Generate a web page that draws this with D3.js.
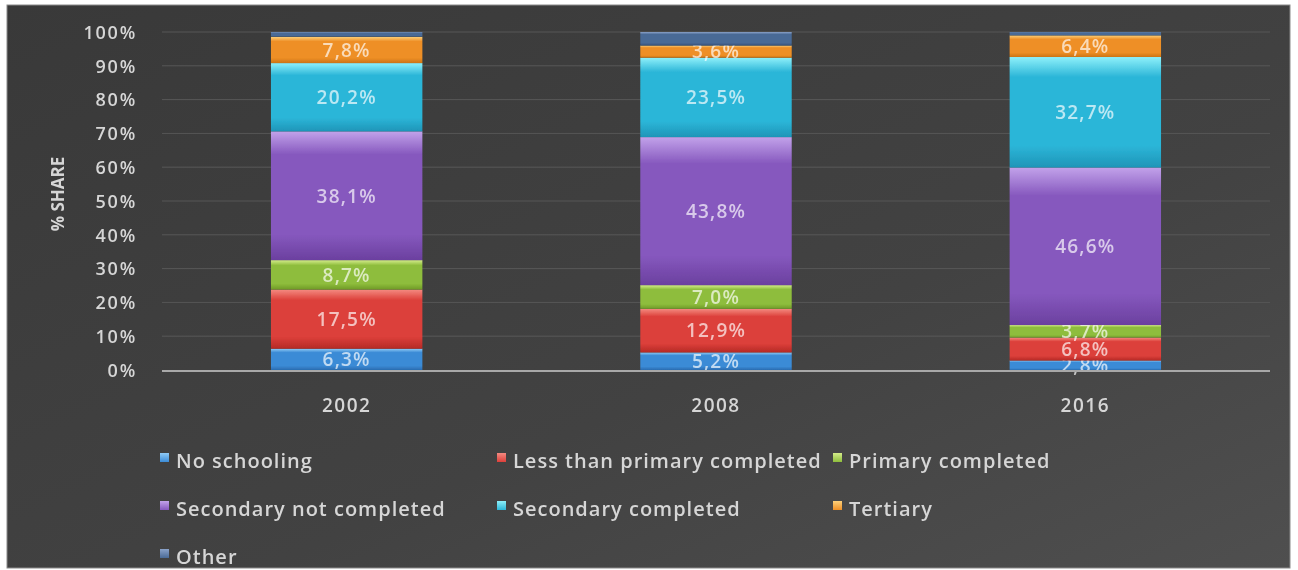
<!DOCTYPE html>
<html>
<head>
<meta charset="utf-8">
<script src="https://cdn.jsdelivr.net/npm/d3@7/dist/d3.min.js"></script>
<style>
  html, body { margin: 0; padding: 0; background: #ffffff; }
  svg { display: block; }
  text { font-family: "Open Sans", "DejaVu Sans", sans-serif; }
</style>
</head>
<body>
<svg id="chart" width="1298" height="570"></svg>
<script>
// Education attainment shares by survey year (percent)
const years = ["2002", "2008", "2016"];
const categories = [
  "No schooling",
  "Less than primary completed",
  "Primary completed",
  "Secondary not completed",
  "Secondary completed",
  "Tertiary",
  "Other"
];
const noSchooling        = [6.3, 5.2, 2.8];
const lessThanPrimary    = [17.5, 12.9, 6.8];
const primaryCompleted   = [8.7, 7.0, 3.7];
const secondaryNotDone   = [38.1, 43.8, 46.6];
const secondaryCompleted = [20.2, 23.5, 32.7];
const tertiary           = [7.8, 3.6, 6.4];
const other              = [1.4, 4.0, 1.0];
const yTicks = [0, 10, 20, 30, 40, 50, 60, 70, 80, 90, 100];

const seriesValues = [noSchooling, lessThanPrimary, primaryCompleted,
  secondaryNotDone, secondaryCompleted, tertiary, other];
const labelled = [true, true, true, true, true, true, false];

// base / highlight / shade colours per category
const palette = [
  { base: "#3b8bd6", hi: "#8fcaf5", lo: "#2a6cb0" },
  { base: "#dc3f3a", hi: "#f48a80", lo: "#b52a26" },
  { base: "#8ebd3c", hi: "#d4ec8a", lo: "#6f9a28" },
  { base: "#8658be", hi: "#c2a2ea", lo: "#6b409f" },
  { base: "#2cb6d8", hi: "#8ef0fa", lo: "#1e95b8" },
  { base: "#ee8f26", hi: "#fdd07a", lo: "#cc7414" },
  { base: "#4a6a96", hi: "#8aa2c8", lo: "#34507a" }
];

const rows = years.map((y, i) => {
  const r = { year: y };
  categories.forEach((c, k) => r[c] = seriesValues[k][i]);
  return r;
});
const stacked = d3.stack().keys(categories)(rows);

const svg = d3.select("#chart");
const defs = svg.append("defs");

// chart panel background
const bg = defs.append("linearGradient").attr("id", "bg")
  .attr("x1", "0").attr("y1", "0").attr("x2", "1").attr("y2", "1");
bg.append("stop").attr("offset", "0%").attr("stop-color", "#393939");
bg.append("stop").attr("offset", "60%").attr("stop-color", "#424242");
bg.append("stop").attr("offset", "100%").attr("stop-color", "#4f4f4f");

palette.forEach((p, k) => {
  const g = defs.append("linearGradient").attr("id", "seg" + k)
    .attr("x1", "0").attr("y1", "0").attr("x2", "0").attr("y2", "1");
  g.append("stop").attr("offset", "0%").attr("stop-color", p.hi);
  g.append("stop").attr("offset", "18%").attr("stop-color", p.base);
  g.append("stop").attr("offset", "80%").attr("stop-color", p.base);
  g.append("stop").attr("offset", "100%").attr("stop-color", p.lo);
  const m = defs.append("linearGradient").attr("id", "mk" + k)
    .attr("x1", "0").attr("y1", "0").attr("x2", "0").attr("y2", "1");
  m.append("stop").attr("offset", "0%").attr("stop-color", p.hi);
  m.append("stop").attr("offset", "100%").attr("stop-color", p.base);
});

const blur = defs.append("filter").attr("id", "soft");
blur.append("feGaussianBlur").attr("stdDeviation", 0.6);

svg.append("rect").attr("x", 7).attr("y", 5).attr("width", 1283).attr("height", 563)
  .attr("fill", "url(#bg)").attr("stroke", "#8a8a8a").attr("stroke-width", 1);

const plot = { left: 162, right: 1270, top: 32, bottom: 370 };

const x = d3.scaleBand().domain(years)
  .range([plot.left, plot.right]).paddingInner(0.59).paddingOuter(0.295);
const y = d3.scaleLinear().domain([0, 100]).range([plot.bottom, plot.top]);

const g = svg.append("g").attr("filter", "url(#soft)");

// horizontal gridlines
g.append("g").selectAll("line").data(yTicks.filter(t => t > 0)).join("line")
  .attr("x1", plot.left).attr("x2", plot.right)
  .attr("y1", d => y(d)).attr("y2", d => y(d))
  .attr("stroke", "#575757").attr("stroke-width", 1);

// y axis tick labels
const yAxis = d3.axisLeft(y).tickValues(yTicks).tickSize(0).tickPadding(0)
  .tickFormat(d => d + "%");
const ya = g.append("g").attr("transform", `translate(137,0)`).call(yAxis);
ya.select(".domain").remove();
ya.selectAll("text").attr("fill", "#d6d6d6").attr("font-size", 18)
  .attr("font-weight", 600).attr("letter-spacing", 1.8)
  .attr("font-family", "'Open Sans', sans-serif").attr("dy", "0.35em");

// y axis title
g.append("text")
  .attr("transform", `translate(64,194) rotate(-90)`)
  .attr("text-anchor", "middle").attr("fill", "#d6d6d6")
  .attr("font-size", 17).attr("font-weight", "bold")
  .text("% SHARE");

// stacked bars
const layers = g.append("g").selectAll("g").data(stacked).join("g");
layers.each(function(layer, k) {
  const sel = d3.select(this);
  sel.selectAll("rect").data(layer).join("rect")
    .attr("x", d => x(d.data.year))
    .attr("width", x.bandwidth())
    .attr("y", d => y(d[1]))
    .attr("height", d => y(d[0]) - y(d[1]))
    .attr("fill", `url(#seg${k})`);
  if (labelled[k]) {
    sel.selectAll("text").data(layer).join("text")
      .attr("x", d => x(d.data.year) + x.bandwidth() / 2)
      .attr("y", d => (y(d[0]) + y(d[1])) / 2)
      .attr("dy", "0.36em")
      .attr("text-anchor", "middle")
      .attr("font-size", 19).attr("font-weight", 600).attr("letter-spacing", 1.2)
      .attr("fill", "rgba(255,255,255,0.68)")
      .text(d => (d[1] - d[0]).toFixed(1).replace(".", ",") + "%");
  }
});

// baseline
g.append("line").attr("x1", plot.left).attr("x2", plot.right)
  .attr("y1", plot.bottom + 1).attr("y2", plot.bottom + 1)
  .attr("stroke", "#a8a8a8").attr("stroke-width", 2);

// x axis labels
const xAxis = d3.axisBottom(x).tickSize(0).tickPadding(0);
const xa = g.append("g").attr("transform", `translate(0,${plot.bottom + 35})`).call(xAxis);
xa.select(".domain").remove();
xa.selectAll("text").attr("fill", "#d6d6d6").attr("font-size", 19)
  .attr("font-weight", 600).attr("letter-spacing", 1.5)
  .attr("font-family", "'Open Sans', sans-serif").attr("dy", "0.35em");

// legend
const legendCols = [160, 497, 833];
const legendRows = [461, 509, 557];
const legend = g.append("g").selectAll("g").data(categories).join("g")
  .attr("transform", (d, i) => `translate(${legendCols[i % 3]},${legendRows[Math.floor(i / 3)]})`);
legend.append("rect").attr("x", 0).attr("y", -8).attr("width", 9).attr("height", 9)
  .attr("fill", (d, i) => `url(#mk${i})`);
legend.append("text").attr("x", 16).attr("y", 0).attr("dy", "0.35em")
  .attr("fill", "#d6d6d6").attr("font-size", 20).attr("font-weight", 600)
  .attr("letter-spacing", 1.0)
  .text(d => d);
</script>
</body>
</html>
